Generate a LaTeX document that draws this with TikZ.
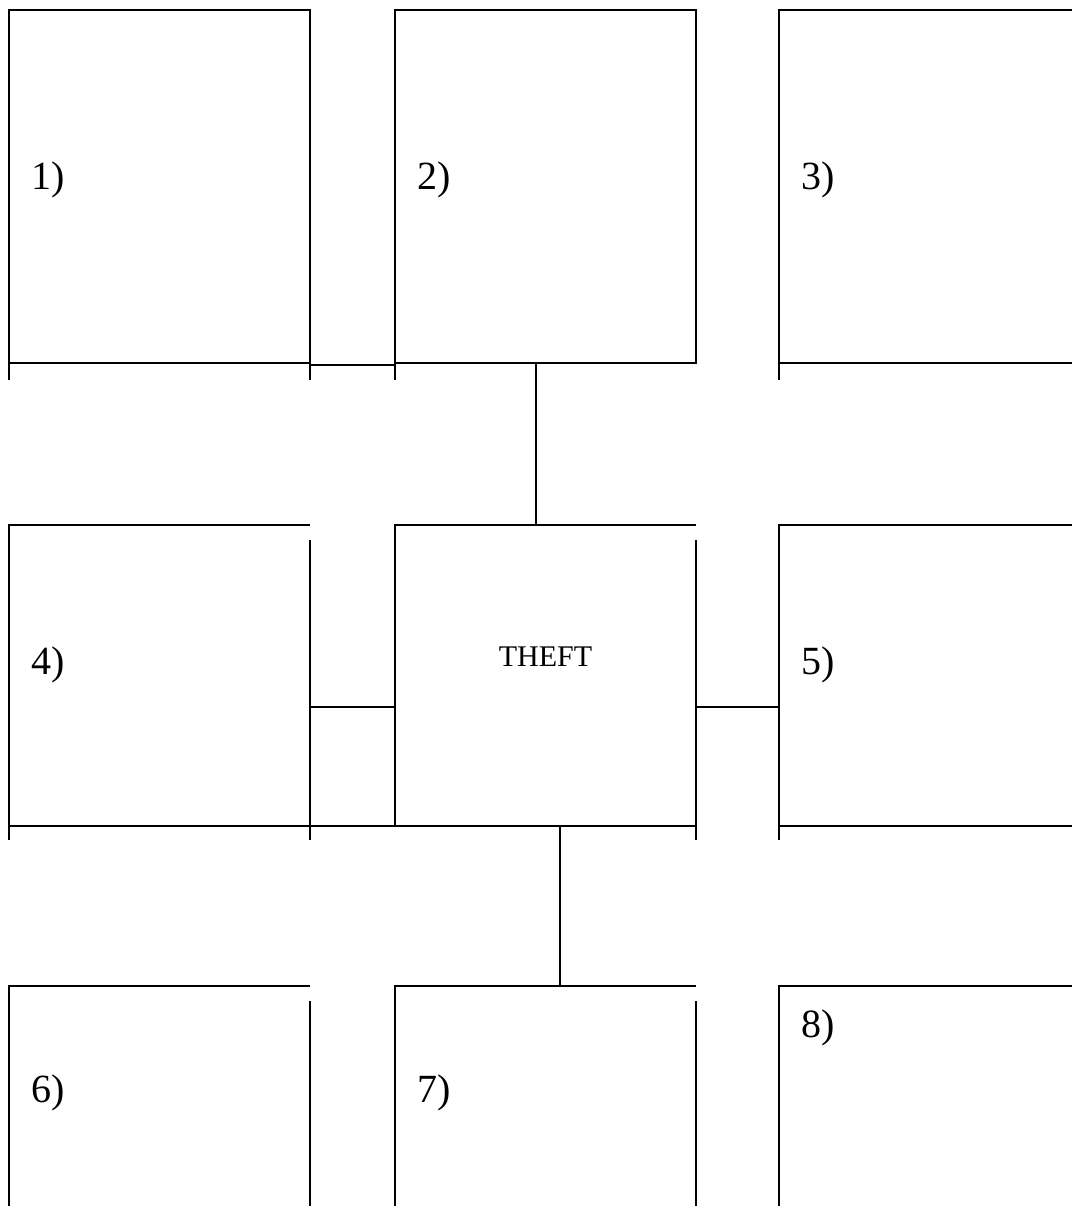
\documentclass[tikz,border=0pt]{standalone}
\usepackage{fontspec}
\setmainfont{Liberation Serif}
\usepackage{tikz}
\usetikzlibrary{calc}
\tikzset{
    every picture/.style={line join=miter},
    cellbox/.style={minimum width=90.3pt,minimum height=90.3pt,inner sep=0pt,outer sep=0pt},
    tallbox/.style={cellbox,minimum height=105.9pt},
    rule/.style={draw=black,line width=0.55pt},
    numlabel/.style={font=\fontsize{12}{14}\selectfont,inner sep=0pt,anchor=base west},
    hublabel/.style={font=\fontsize{9}{11}\selectfont,inner sep=0pt,anchor=base}
}

\begin{document}
\begin{tikzpicture}[x=0.3pt,y=-0.3pt]
  \useasboundingbox (0,0) rectangle (1072,1206);
  \clip (0,0) rectangle (1072,1206);

  \node[tallbox] (b1) at (159.5,186.5) {};
  \node[tallbox] (b2) at (545.5,186.5) {};
  \node[tallbox] (b3) at (929.5,186.5) {};
  \node[cellbox] (b4) at (159.5,675.5) {};
  \node[cellbox] (theft) at (545.5,675.5) {};
  \node[cellbox] (b5) at (929.5,675.5) {};
  \node[cellbox] (b6) at (159.5,1136.5) {};
  \node[cellbox] (b7) at (545.5,1136.5) {};
  \node[cellbox] (b8) at (929.5,1136.5) {};

  % top row
  \draw[rule] (b1.south west) ++(0,17) |- (b1.north east) -- ++(0,370);
  \draw[rule] (b1.south west) -- (b1.south east);
  \draw[rule] (b2.south west) ++(0,17) |- (b2.north east) -- (b2.south east) -- (b2.south west);
  \draw[rule] (b3.south west) ++(0,17) |- (b3.north east);
  \draw[rule] (b3.south west) -- (b3.south east);

  % middle row
  \draw[rule] (b4.south west) ++(0,14) |- (b4.north east);
  \draw[rule] (b4.north east) ++(0,15) -- ++(0,300);
  \draw[rule] (b4.south west) -- (theft.south east);
  \draw[rule] (theft.south west) |- (theft.north east);
  \draw[rule] (theft.north east) ++(0,15) -- ++(0,300);
  \draw[rule] (b5.south west) ++(0,14) |- (b5.north east);
  \draw[rule] (b5.south west) -- (b5.south east);

  % bottom row
  \foreach \b in {b6,b7}{
    \draw[rule] (\b.south west) |- (\b.north east);
    \draw[rule] (\b.north east) ++(0,15) -- (\b.south east);
  }
  \draw[rule] (b8.south west) |- (b8.north east);

  % links
  \draw[rule] ([yshift=-0.6pt]b1.south east) -- ([yshift=-0.6pt]b2.south west);
  \draw[rule] ([xshift=-2.85pt]b2.south) -- ([xshift=-2.85pt]theft.north);
  \draw[rule] ([yshift=-9.45pt]b4.east) -- ([yshift=-9.45pt]theft.west);
  \draw[rule] ([yshift=-9.45pt]theft.east) -- ([yshift=-9.45pt]b5.west);
  \draw[rule] ([xshift=4.35pt]theft.south) -- ([xshift=4.35pt]b7.north);

  \node[numlabel] (n1) at (31,190) {1)};
  \node[numlabel] (n2) at (417,190) {2)};
  \node[numlabel] (n3) at (801,190) {3)};
  \node[numlabel] (n4) at (31,674) {4)};
  \node[hublabel] (hub) at (545.5,666) {THEFT};
  \node[numlabel] (n5) at (801,674) {5)};
  \node[numlabel] (n6) at (31,1102) {6)};
  \node[numlabel] (n7) at (417,1102) {7)};
  \node[numlabel] (n8) at (801,1037) {8)};
\end{tikzpicture}
\end{document}
